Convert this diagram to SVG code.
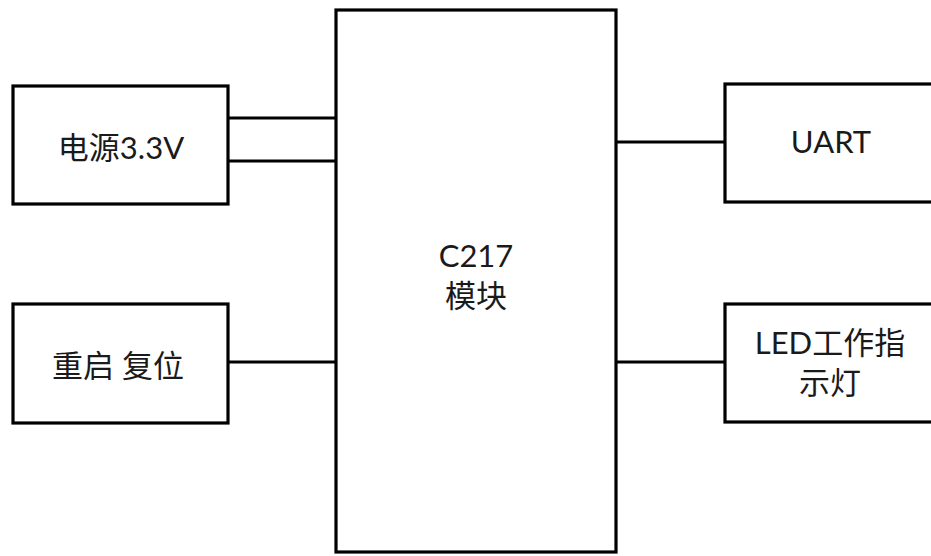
<svg xmlns="http://www.w3.org/2000/svg" width="931" height="556" viewBox="0 0 931 556">
<style>
.box{fill:#fff;stroke:#000;stroke-width:3.2}
.ln{stroke:#000;stroke-width:3;fill:none}
text{font-family:Lato,"Noto Sans CJK SC",sans-serif;font-size:31px;fill:#1a1a1a;text-anchor:middle}
</style>
<rect width="931" height="556" fill="#fff"/>
<g id="connectors">
<line class="ln" x1="228" y1="118" x2="336" y2="118"/>
<line class="ln" x1="228" y1="161" x2="336" y2="161"/>
<line class="ln" x1="228" y1="362" x2="336" y2="362"/>
<line class="ln" x1="616" y1="142" x2="725" y2="142"/>
<line class="ln" x1="616" y1="362" x2="725" y2="362"/>
</g>
<g id="power">
<rect class="box" x="13" y="86" width="215" height="118"/>
<text x="121" y="159">电源3.3V</text>
</g>
<g id="reset">
<rect class="box" x="13" y="304" width="215" height="119"/>
<text x="118" y="377">重启 复位</text>
</g>
<g id="module">
<rect class="box" x="336" y="10" width="280" height="542"/>
<text x="476" y="267">C217</text>
<text x="476" y="307">模块</text>
</g>
<g id="uart">
<rect class="box" x="725" y="84" width="220" height="118"/>
<text x="831" y="153">UART</text>
</g>
<g id="led">
<rect class="box" x="725" y="304" width="220" height="118"/>
<text x="830" y="354">LED工作指</text>
<text x="830" y="394">示灯</text>
</g>
</svg>
